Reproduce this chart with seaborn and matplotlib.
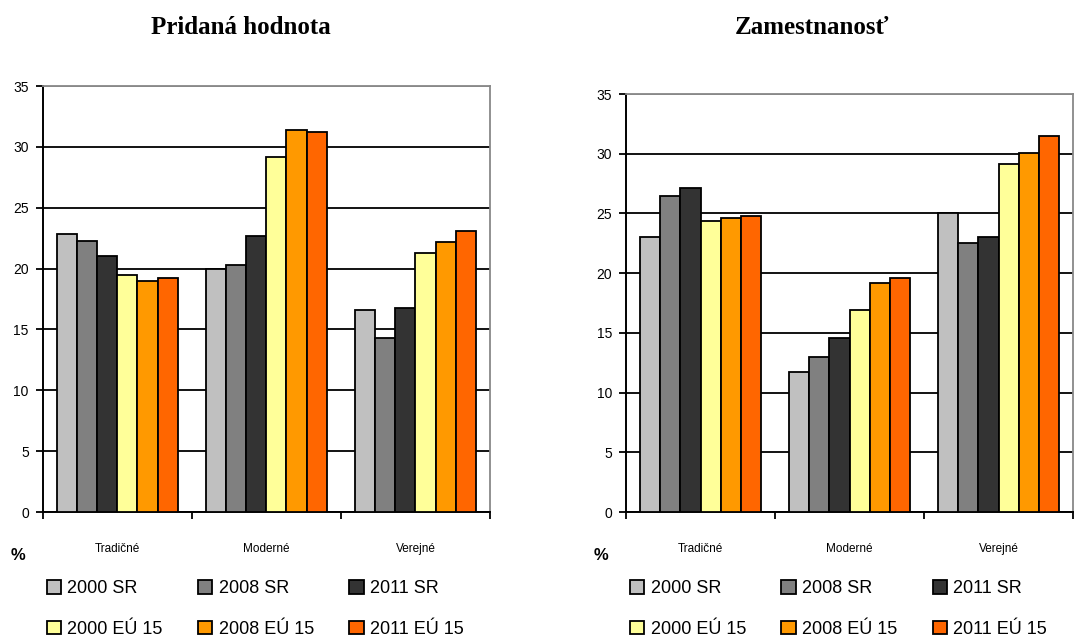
import numpy as np
import pandas as pd
import seaborn as sns
import matplotlib.pyplot as plt
from matplotlib.patches import Patch
from matplotlib.ticker import FixedLocator

SECTORS = ['Tradičné', 'Moderné', 'Verejné']
SERIES = ['2000 SR', '2008 SR', '2011 SR', '2000 EÚ 15', '2008 EÚ 15', '2011 EÚ 15']
COLORS = ['#C0C0C0', '#808080', '#333333', '#FFFF99', '#FF9900', '#FF6600']

# Pridaná hodnota (share, %), one list per sector in SERIES order
hv_tradicne = [22.8, 22.3, 21.0, 19.5, 19.0, 19.2]
hv_moderne = [20.0, 20.3, 22.7, 29.2, 31.4, 31.2]
hv_verejne = [16.6, 14.3, 16.8, 21.3, 22.2, 23.1]

# Zamestnanosť (share, %)
zam_tradicne = [23.0, 26.5, 27.1, 24.4, 24.6, 24.8]
zam_moderne = [11.7, 13.0, 14.6, 16.9, 19.2, 19.6]
zam_verejne = [25.0, 22.5, 23.0, 29.1, 30.1, 31.5]


def to_frame(tradicne, moderne, verejne):
    rows = []
    for sector, vals in zip(SECTORS, [tradicne, moderne, verejne]):
        for s, v in zip(SERIES, vals):
            rows.append({'sektor': sector, 'rad': s, 'hodnota': v})
    return pd.DataFrame(rows)


sns.set_style('white')
plt.rcParams['font.family'] = ['Liberation Sans', 'DejaVu Sans']
plt.rcParams['text.color'] = 'black'
plt.rcParams['xtick.color'] = 'black'
plt.rcParams['ytick.color'] = 'black'

fig = plt.figure(figsize=(10.78, 6.37), dpi=100)
W, H = 1078, 637
ax_l = fig.add_axes([42.7 / W, 1 - 512 / H, 447.3 / W, 426 / H])
ax_r = fig.add_axes([626 / W, 1 - 512 / H, 447 / W, 418 / H])

panels = [
    (ax_l, to_frame(hv_tradicne, hv_moderne, hv_verejne), 'Pridaná hodnota', 241),
    (ax_r, to_frame(zam_tradicne, zam_moderne, zam_verejne), 'Zamestnanosť', 812),
]

for ax, df, title, tx in panels:
    sns.barplot(data=df, x='sektor', y='hodnota', hue='rad', hue_order=SERIES,
                palette=COLORS, saturation=1, width=0.81, gap=0,
                edgecolor='black', linewidth=1.3, legend=False, ax=ax, zorder=3)
    ax.set_ylim(0, 35)
    ax.set_xlim(-0.5, 2.5)
    ax.set_yticks(np.arange(0, 36, 5))
    ax.yaxis.grid(True, color='black', linewidth=1.3, zorder=0)
    ax.get_ygridlines()[-1].set_color('#888888')
    ax.set_axisbelow(True)
    ax.tick_params(axis='y', direction='out', length=5, width=1.3, pad=5,
                   labelsize=10, left=True)
    ax.tick_params(axis='x', which='major', length=0, pad=22, labelsize=8.5)
    ax.xaxis.set_minor_locator(FixedLocator([-0.5, 0.5, 1.5, 2.5]))
    ax.tick_params(axis='x', which='minor', direction='out', length=5,
                   width=1.3, bottom=True)
    ax.set_xlabel('')
    ax.set_ylabel('')
    for side in ['left', 'bottom']:
        ax.spines[side].set_color('black')
        ax.spines[side].set_linewidth(1.4)
    for side in ['top', 'right']:
        ax.spines[side].set_color('#888888')
        ax.spines[side].set_linewidth(1.3)
    fig.text(tx / W, 1 - 28 / H, title, ha='center', va='center',
             fontsize=18, fontweight='bold', family='Liberation Serif')

    # legend: 2 rows x 3 columns, filled row by row
    handles = [Patch(facecolor=c, edgecolor='black', linewidth=1.3) for c in COLORS]
    order = [0, 3, 1, 4, 2, 5]
    x0 = ax.get_position().x0
    ax.legend([handles[i] for i in order], [SERIES[i] for i in order],
              ncol=3, loc='upper left', frameon=False, fontsize=13,
              bbox_to_anchor=(x0 + 4 / W, 1 - 580 / H),
              bbox_transform=fig.transFigure,
              handlelength=0.8, handleheight=0.8, handletextpad=0.35,
              columnspacing=1.95, labelspacing=1.3, borderaxespad=0,
              borderpad=0)

fig.text(18 / W, 1 - 555 / H, '%', ha='center', va='center', fontsize=12, fontweight='bold')
fig.text(601 / W, 1 - 555 / H, '%', ha='center', va='center', fontsize=12, fontweight='bold')

fig.savefig('out.png', dpi=100)
